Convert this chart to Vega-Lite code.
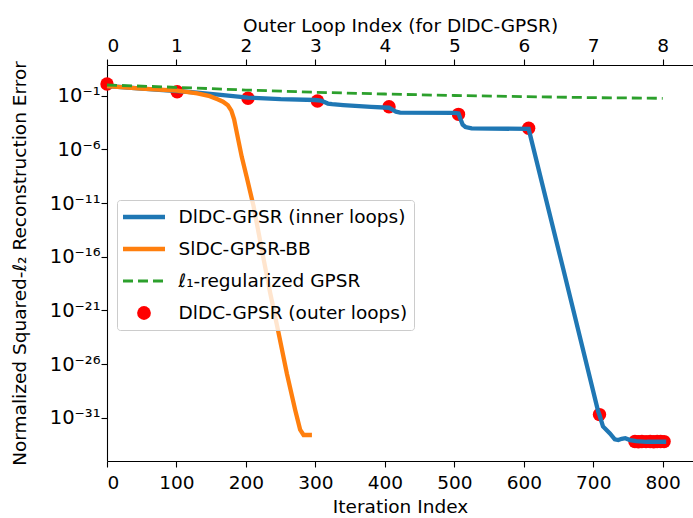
{
  "$schema": "https://vega.github.io/schema/vega-lite/v6.json",
  "width": 586,
  "height": 396,
  "autosize": {"type": "none"},
  "padding": {"left": 107, "top": 65, "right": 0, "bottom": 57},
  "background": "white",
  "config": {
    "font": "DejaVu Sans",
    "view": {"stroke": null},
    "axis": {
      "grid": false,
      "labelFont": "DejaVu Sans",
      "titleFont": "DejaVu Sans",
      "labelFontSize": 18.5,
      "titleFontSize": 18.5,
      "titleFontWeight": "normal",
      "labelColor": "black",
      "titleColor": "black",
      "domainColor": "black",
      "tickColor": "black",
      "domainWidth": 1.1,
      "tickWidth": 1.1,
      "tickSize": 6
    }
  },
  "data": {
    "values": [
      {"series": "outer", "iter": 0, "err": 1.2},
      {"series": "outer", "iter": 101, "err": 0.23},
      {"series": "outer", "iter": 203, "err": 0.056},
      {"series": "outer", "iter": 303, "err": 0.0316},
      {"series": "outer", "iter": 406, "err": 0.0093},
      {"series": "outer", "iter": 506, "err": 0.0018},
      {"series": "outer", "iter": 607, "err": 9.1e-5},
      {"series": "outer", "iter": 709, "err": 2.0e-31},
      {"series": "outer", "iter": 760, "err": 6.3e-34},
      {"series": "outer", "iter": 765, "err": 6.0e-34},
      {"series": "outer", "iter": 770, "err": 6.3e-34},
      {"series": "outer", "iter": 776, "err": 6.1e-34},
      {"series": "outer", "iter": 782, "err": 6.3e-34},
      {"series": "outer", "iter": 787, "err": 6.0e-34},
      {"series": "outer", "iter": 792, "err": 6.2e-34},
      {"series": "outer", "iter": 797, "err": 6.3e-34},
      {"series": "outer", "iter": 802, "err": 6.1e-34},

      {"series": "inner", "iter": 0, "err": 0.776},
      {"series": "inner", "iter": 25, "err": 0.603},
      {"series": "inner", "iter": 50, "err": 0.457},
      {"series": "inner", "iter": 75, "err": 0.347},
      {"series": "inner", "iter": 101, "err": 0.269},
      {"series": "inner", "iter": 130, "err": 0.191},
      {"series": "inner", "iter": 160, "err": 0.126},
      {"series": "inner", "iter": 203, "err": 0.0661},
      {"series": "inner", "iter": 250, "err": 0.0468},
      {"series": "inner", "iter": 300, "err": 0.0389},
      {"series": "inner", "iter": 308, "err": 0.0339},
      {"series": "inner", "iter": 313, "err": 0.0251},
      {"series": "inner", "iter": 318, "err": 0.0182},
      {"series": "inner", "iter": 324, "err": 0.0158},
      {"series": "inner", "iter": 340, "err": 0.0132},
      {"series": "inner", "iter": 380, "err": 0.00891},
      {"series": "inner", "iter": 406, "err": 0.00741},
      {"series": "inner", "iter": 411, "err": 0.00501},
      {"series": "inner", "iter": 416, "err": 0.00316},
      {"series": "inner", "iter": 422, "err": 0.00263},
      {"series": "inner", "iter": 500, "err": 0.00251},
      {"series": "inner", "iter": 506, "err": 0.00219},
      {"series": "inner", "iter": 509, "err": 0.000631},
      {"series": "inner", "iter": 512, "err": 0.0002},
      {"series": "inner", "iter": 516, "err": 0.00012},
      {"series": "inner", "iter": 525, "err": 8.91e-5},
      {"series": "inner", "iter": 607, "err": 7.94e-5},
      {"series": "inner", "iter": 657, "err": 6.31e-18},
      {"series": "inner", "iter": 707, "err": 3.98e-31},
      {"series": "inner", "iter": 709, "err": 1.82e-31},
      {"series": "inner", "iter": 714, "err": 1.58e-32},
      {"series": "inner", "iter": 724, "err": 3.55e-33},
      {"series": "inner", "iter": 731, "err": 1.0e-33},
      {"series": "inner", "iter": 736, "err": 8.51e-34},
      {"series": "inner", "iter": 741, "err": 1.12e-33},
      {"series": "inner", "iter": 746, "err": 1.26e-33},
      {"series": "inner", "iter": 753, "err": 8.51e-34},
      {"series": "inner", "iter": 762, "err": 6.92e-34},
      {"series": "inner", "iter": 777, "err": 5.89e-34},
      {"series": "inner", "iter": 805, "err": 5.89e-34},

      {"series": "bb", "iter": 0, "err": 0.776},
      {"series": "bb", "iter": 50, "err": 0.457},
      {"series": "bb", "iter": 101, "err": 0.288},
      {"series": "bb", "iter": 130, "err": 0.158},
      {"series": "bb", "iter": 148, "err": 0.0891},
      {"series": "bb", "iter": 160, "err": 0.0437},
      {"series": "bb", "iter": 167, "err": 0.0269},
      {"series": "bb", "iter": 174, "err": 0.0126},
      {"series": "bb", "iter": 179, "err": 0.00398},
      {"series": "bb", "iter": 183, "err": 0.000631},
      {"series": "bb", "iter": 187, "err": 3.16e-5},
      {"series": "bb", "iter": 194, "err": 2.0e-7},
      {"series": "bb", "iter": 201, "err": 2.82e-9},
      {"series": "bb", "iter": 211, "err": 5.01e-12},
      {"series": "bb", "iter": 223, "err": 3.98e-16},
      {"series": "bb", "iter": 235, "err": 3.98e-20},
      {"series": "bb", "iter": 247, "err": 7.94e-24},
      {"series": "bb", "iter": 259, "err": 1.26e-27},
      {"series": "bb", "iter": 271, "err": 5.01e-31},
      {"series": "bb", "iter": 278, "err": 7.94e-33},
      {"series": "bb", "iter": 283, "err": 2.51e-33},
      {"series": "bb", "iter": 295, "err": 2.51e-33},

      {"series": "l1", "iter": 0, "err": 0.977},
      {"series": "l1", "iter": 100, "err": 0.589},
      {"series": "l1", "iter": 200, "err": 0.331},
      {"series": "l1", "iter": 300, "err": 0.204},
      {"series": "l1", "iter": 400, "err": 0.141},
      {"series": "l1", "iter": 500, "err": 0.102},
      {"series": "l1", "iter": 600, "err": 0.0813},
      {"series": "l1", "iter": 700, "err": 0.0646},
      {"series": "l1", "iter": 800, "err": 0.0562}
    ]
  },
  "encoding": {
    "y": {
      "field": "err",
      "type": "quantitative",
      "scale": {"type": "log", "domain": [9.55e-36, 70.8], "nice": false},
      "axis": {
        "title": "Normalized Squared-ℓ₂ Reconstruction Error",
        "values": [1e-1, 1e-6, 1e-11, 1e-16, 1e-21, 1e-26, 1e-31],
        "labelExpr": "datum.value > 1e-3 ? '10⁻¹' : datum.value > 1e-8 ? '10⁻⁶' : datum.value > 1e-13 ? '10⁻¹¹' : datum.value > 1e-18 ? '10⁻¹⁶' : datum.value > 1e-23 ? '10⁻²¹' : datum.value > 1e-28 ? '10⁻²⁶' : '10⁻³¹'",
        "labelFontSize": 19.5,
        "labelPadding": 1,
        "titlePadding": 20
      }
    },
    "color": {
      "field": "series",
      "type": "nominal",
      "scale": {
        "domain": ["inner", "bb", "l1", "outer"],
        "range": ["#1f77b4", "#ff7f0e", "#2ca02c", "#ff0000"]
      },
      "legend": {
        "orient": "none",
        "legendX": 10,
        "legendY": 135,
        "title": null,
        "padding": 6,
        "rowPadding": 10,
        "clipHeight": 22,
        "symbolSize": 1764,
        "labelOffset": 37,
        "labelFont": "DejaVu Sans",
        "labelFontSize": 18.5,
        "labelColor": "black",
        "labelLimit": 0,
        "fillColor": "rgba(255,255,255,0.8)",
        "strokeColor": "#cccccc",
        "cornerRadius": 3,
        "labelExpr": "datum.value === 'inner' ? 'DlDC-GPSR (inner loops)' : datum.value === 'bb' ? 'SlDC-GPSR-BB' : datum.value === 'l1' ? 'ℓ₁-regularized GPSR' : 'DlDC-GPSR (outer loops)'",
        "encode": {
          "symbols": {
            "update": {
              "x": {"value": 21},
              "shape": {"signal": "datum.value === 'outer' ? 'circle' : 'stroke'"},
              "size": {"signal": "datum.value === 'outer' ? 190 : 1764"},
              "fill": {"signal": "datum.value === 'outer' ? '#ff0000' : 'transparent'"},
              "stroke": {"signal": "datum.value === 'inner' ? '#1f77b4' : datum.value === 'bb' ? '#ff7f0e' : datum.value === 'l1' ? '#2ca02c' : 'transparent'"},
              "strokeWidth": {"signal": "datum.value === 'outer' ? 0 : datum.value === 'l1' ? 2.8 : 4.3"},
              "strokeDash": {"signal": "datum.value === 'l1' ? [10, 5] : [1, 0]"},
              "opacity": {"value": 1}
            }
          }
        }
      }
    }
  },
  "layer": [
    {
      "transform": [{"filter": "datum.series === 'outer'"}],
      "mark": {"type": "point", "filled": true, "size": 180, "opacity": 1},
      "encoding": {
        "x": {
          "field": "iter",
          "type": "quantitative",
          "scale": {"domain": [0, 843.6], "nice": false, "zero": false},
          "axis": {
            "orient": "bottom",
            "title": "Iteration Index",
            "values": [0, 100, 200, 300, 400, 500, 600, 700, 800],
            "format": "d",
            "labelPadding": 6,
            "titlePadding": 6
          }
        }
      }
    },
    {
      "transform": [{"filter": "datum.series === 'inner'"}],
      "mark": {"type": "line", "strokeWidth": 4.3},
      "encoding": {
        "x": {"field": "iter", "type": "quantitative", "axis": null}
      }
    },
    {
      "transform": [{"filter": "datum.series === 'bb'"}],
      "mark": {"type": "line", "strokeWidth": 4.3},
      "encoding": {
        "x": {"field": "iter", "type": "quantitative", "axis": null}
      }
    },
    {
      "transform": [{"filter": "datum.series === 'l1'"}],
      "mark": {"type": "line", "strokeWidth": 2.8, "strokeDash": [10, 5]},
      "encoding": {
        "x": {
          "field": "iter",
          "type": "quantitative",
          "axis": {
            "orient": "top",
            "title": "Outer Loop Index (for DlDC-GPSR)",
            "values": [0, 100, 200, 300, 400, 500, 600, 700, 800],
            "labelExpr": "format(datum.value / 100, 'd')",
            "labelPadding": 3.5,
            "titlePadding": 1
          }
        }
      }
    }
  ],
  "resolve": {"axis": {"x": "independent"}}
}
